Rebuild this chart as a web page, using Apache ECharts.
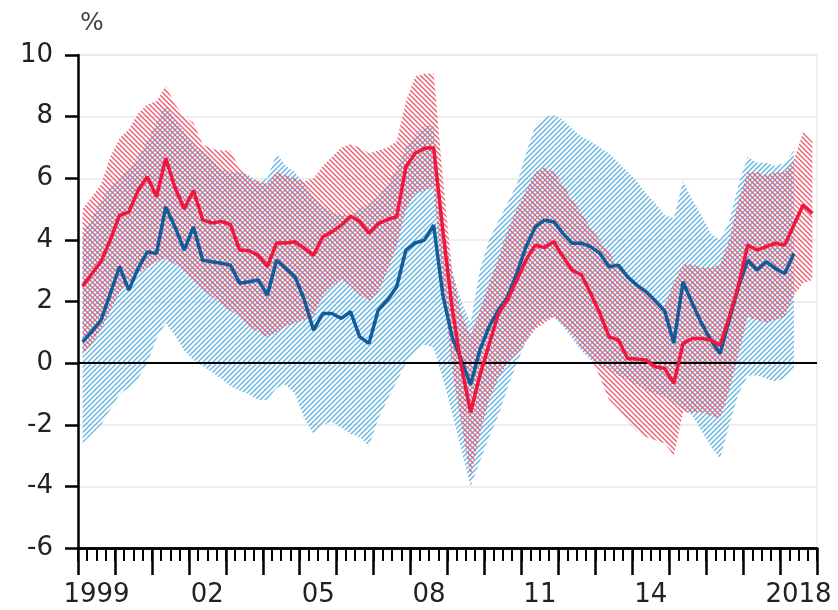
<!DOCTYPE html>
<html>
<head>
<meta charset="utf-8">
<script src="https://cdn.jsdelivr.net/npm/echarts@6/dist/echarts.min.js"></script>
<style>
  html, body { margin: 0; padding: 0; background: #fff; }
  #chart { width: 838px; height: 610px; }
</style>
</head>
<body>
<div id="chart"></div>
<script>
// quarterly, 1999Q1 .. 2018Q4
const years = []
for (let y = 1999; y <= 2018; y++) years.push(String(y))
const quarters = []
years.forEach(y => { for (let q = 1; q <= 4; q++) quarters.push(y + 'Q' + q) })
const yearLabels = ['1999', '2002', '2005', '2008', '2011', '2014', '2018']

const redLine = [
  2.5, 2.9, 3.3, 4.0, 4.8, 4.9, 5.6, 6.05, 5.4, 6.65, 5.7, 5.0, 5.6, 4.65, 4.55, 4.6, 4.5, 3.67, 3.65, 3.5,
  3.13, 3.9, 3.9, 3.94, 3.72, 3.5, 4.1, 4.26, 4.48, 4.77, 4.6, 4.21, 4.53, 4.66, 4.75, 6.37, 6.81, 6.97, 6.99, 4.3,
  1.8, -0.1, -1.6, -0.4, 0.6, 1.6, 2.05, 2.7, 3.34, 3.83, 3.75, 3.94, 3.45, 3.02, 2.86, 2.26, 1.61, 0.85, 0.75, 0.15,
  0.13, 0.1, -0.12, -0.17, -0.66, 0.64, 0.8, 0.8, 0.75, 0.58, 1.49, 2.52, 3.83, 3.67, 3.78, 3.89, 3.83, 4.48, 5.13, 4.86
]
const blueLine = [
  0.69, 1.02, 1.4, 2.26, 3.13, 2.37, 3.07, 3.61, 3.56, 5.07, 4.42, 3.67, 4.42, 3.34, 3.29, 3.24, 3.18, 2.59, 2.64, 2.7,
  2.21, 3.34, 3.07, 2.8, 2.05, 1.07, 1.61, 1.61, 1.45, 1.67, 0.85, 0.64, 1.72, 2.05, 2.48, 3.67, 3.9, 3.99, 4.48, 2.2,
  0.85, 0.1, -0.7, 0.42, 1.18, 1.72, 2.15, 2.91, 3.78, 4.42, 4.64, 4.59, 4.21, 3.89, 3.89, 3.78, 3.56, 3.13, 3.18, 2.8,
  2.53, 2.32, 2.02, 1.7, 0.65, 2.64, 1.94, 1.29, 0.75, 0.31, 1.4, 2.48, 3.34, 3.02, 3.29, 3.07, 2.91, 3.56
]
const redUpper = [
  5.0, 5.4, 5.8, 6.7, 7.3, 7.6, 8.1, 8.4, 8.5, 9.0, 8.4, 8.0, 7.8, 7.1, 6.95, 6.9, 6.9, 6.3, 6.0, 5.9,
  5.8, 6.2, 6.1, 6.0, 5.9, 6.0, 6.4, 6.7, 7.0, 7.1, 7.0, 6.8, 6.9, 7.0, 7.2, 8.5, 9.3, 9.4, 9.4, 6.0,
  3.0, 1.6, 0.9, 1.7, 2.6, 3.4, 4.3, 5.0, 5.6, 6.2, 6.35, 6.2, 5.8, 5.3, 4.9, 4.4, 4.0, 3.6, 3.1, 2.8,
  2.5, 2.25, 2.0, 1.85, 2.6, 3.2, 3.2, 3.1, 3.1, 3.2, 4.0, 5.3, 6.2, 6.2, 6.1, 6.2, 6.2, 6.6, 7.5, 7.2
]
const redLower = [
  0.3, 0.6, 1.1, 1.7, 2.3, 2.6, 2.9, 3.1, 3.3, 3.4, 3.2, 3.0, 2.7, 2.4, 2.15, 1.9, 1.7, 1.5, 1.2, 1.0,
  0.85, 1.0, 1.2, 1.3, 1.4, 1.5, 2.2, 2.5, 2.7, 2.5, 2.2, 2.0, 2.3, 3.0, 3.8, 5.0, 5.5, 5.6, 5.7, 2.5,
  -0.2, -2.0, -3.7, -2.3, -1.2, -0.5, 0.0, 0.3, 0.7, 1.1, 1.3, 1.5, 1.2, 0.9, 0.5, 0.2, -0.45, -1.2, -1.5, -1.9,
  -2.2, -2.4, -2.5, -2.6, -3.0, -1.6, -1.6, -1.6, -1.7, -1.8, -0.9, 0.3, 1.5, 1.4, 1.3, 1.4, 1.5, 2.2, 2.6, 2.7
]
const blueUpper = [
  4.2, 4.7, 5.3, 5.7, 6.0, 6.3, 6.7, 7.2, 7.8, 8.4, 7.9, 7.5, 7.1, 6.9, 6.6, 6.3, 6.2, 6.2, 6.1, 5.9,
  6.0, 6.8, 6.4, 6.2, 5.8, 5.4, 5.1, 4.9, 4.8, 4.8, 5.0, 5.2, 5.4, 5.8, 6.3, 7.0, 7.4, 7.7, 7.7, 4.5,
  3.0, 2.0, 1.3, 3.0, 4.0, 4.6, 5.2, 5.8, 6.8, 7.7, 8.0, 8.05, 7.9, 7.6, 7.35, 7.2, 7.0, 6.8, 6.5, 6.2,
  5.9, 5.5, 5.2, 4.8, 4.7, 5.9, 5.3, 4.8, 4.2, 4.0, 4.6, 5.8, 6.7, 6.5, 6.5, 6.4, 6.5, 6.9
]
const blueLower = [
  -2.6, -2.3, -2.0, -1.5, -1.0, -0.8, -0.5, 0.0, 0.8, 1.3, 0.9, 0.4, 0.1, -0.1, -0.3, -0.5, -0.75, -0.9, -1.0, -1.2,
  -1.2, -0.8, -0.7, -1.0, -1.8, -2.3, -2.0, -1.9, -2.1, -2.3, -2.4, -2.7, -1.8, -1.2, -0.6, 0.0, 0.4, 0.6, 0.5, -0.5,
  -1.6, -2.8, -4.0, -3.2, -2.4, -1.7, -0.8, 0.0, 0.7, 1.2, 1.4, 1.5, 1.2, 0.8, 0.4, 0.1, -0.1, -0.2, -0.4, -0.55,
  -0.7, -0.9, -1.0, -1.1, -1.3, -1.5, -1.7, -2.2, -2.7, -3.1, -2.0, -1.0, -0.4, -0.4, -0.5, -0.6, -0.5, -0.2
]

const fontFamily = '"DejaVu Sans", sans-serif'

// diagonal hatch tile, dir 1 = '/', dir -1 = '\'
function hatch(color, dir) {
  const s = 5
  const c = document.createElement('canvas')
  c.width = s
  c.height = s
  const g = c.getContext('2d')
  g.strokeStyle = color
  g.lineWidth = 1.3
  g.beginPath()
  if (dir > 0) {
    g.moveTo(0, s); g.lineTo(s, 0)
    g.moveTo(-1, 1); g.lineTo(1, -1)
    g.moveTo(s - 1, s + 1); g.lineTo(s + 1, s - 1)
  } else {
    g.moveTo(0, 0); g.lineTo(s, s)
    g.moveTo(-1, s - 1); g.lineTo(1, s + 1)
    g.moveTo(s - 1, -1); g.lineTo(s + 1, 1)
  }
  g.stroke()
  return c
}

function band(name, stack, lower, upper, pattern) {
  return [{
    name: name + 'Low',
    type: 'line',
    stack: stack,
    stackStrategy: 'all',
    data: lower,
    symbol: 'none',
    lineStyle: { opacity: 0 },
    z: 1,
    silent: true
  }, {
    name: name + 'Band',
    type: 'line',
    stack: stack,
    stackStrategy: 'all',
    data: upper.map((v, i) => +(v - lower[i]).toFixed(2)),
    symbol: 'none',
    lineStyle: { opacity: 0 },
    areaStyle: { color: { image: pattern, repeat: 'repeat' }, opacity: 1 },
    z: 2,
    silent: true
  }]
}

const chart = echarts.init(document.getElementById('chart'))

const blueBand = band('blue', 'b', blueLower, blueUpper, hatch('#5db4e4', 1))
const redBand = band('red', 'r', redLower, redUpper, hatch('#f0566b', -1))

// zero line sits under the hatching
blueBand[0].markLine = {
  silent: true,
  symbol: 'none',
  label: { show: false },
  lineStyle: { color: '#000', width: 2, type: 'solid' },
  data: [{ yAxis: 0 }]
}

chart.setOption({
  animation: false,
  grid: {
    left: 78,
    right: 21,
    top: 55,
    bottom: 62,
    show: true,
    borderColor: '#e4e4e4',
    borderWidth: 1
  },
  xAxis: [{
    type: 'category',
    data: quarters,
    boundaryGap: true,
    axisLine: { onZero: false, lineStyle: { color: '#000', width: 2.5 } },
    axisTick: { show: true, interval: 0, length: 13, lineStyle: { color: '#000', width: 2 } },
    axisLabel: { show: false },
    splitLine: { show: false }
  }, {
    type: 'category',
    data: years,
    position: 'bottom',
    boundaryGap: true,
    axisLine: { show: true, onZero: false, lineStyle: { color: '#000', width: 2.5 } },
    axisTick: { show: true, interval: 0, length: 27, lineStyle: { color: '#000', width: 2.5 } },
    axisLabel: {
      interval: (idx, v) => yearLabels.indexOf(v) >= 0,
      formatter: v => (v === '1999' || v === '2018') ? v : v.slice(2),
      margin: 34,
      fontSize: 26,
      fontFamily: fontFamily,
      color: '#222'
    },
    splitLine: { show: false }
  }],
  yAxis: {
    type: 'value',
    min: -6,
    max: 10,
    interval: 2,
    name: '%',
    nameLocation: 'end',
    nameGap: 19,
    nameTextStyle: { fontSize: 25, fontFamily: fontFamily, color: '#444', align: 'left', verticalAlign: 'bottom', padding: [0, 0, 0, 2] },
    axisLine: { show: true, lineStyle: { color: '#000', width: 2.5 } },
    axisTick: { show: true, length: 13, lineStyle: { color: '#000', width: 2.5 } },
    axisLabel: { margin: 25, fontSize: 26, fontFamily: fontFamily, color: '#222' },
    splitLine: { show: true, lineStyle: { color: '#e8e8e8', width: 1.5 } }
  },
  series: [
    ...blueBand,
    ...redBand,
    {
      name: 'blue',
      type: 'line',
      data: blueLine,
      symbol: 'none',
      lineStyle: { color: '#115c99', width: 3.5 },
      z: 4
    },
    {
      name: 'red',
      type: 'line',
      data: redLine,
      symbol: 'none',
      lineStyle: { color: '#f0163c', width: 3.5 },
      z: 5
    }
  ]
})
</script>
</body>
</html>
